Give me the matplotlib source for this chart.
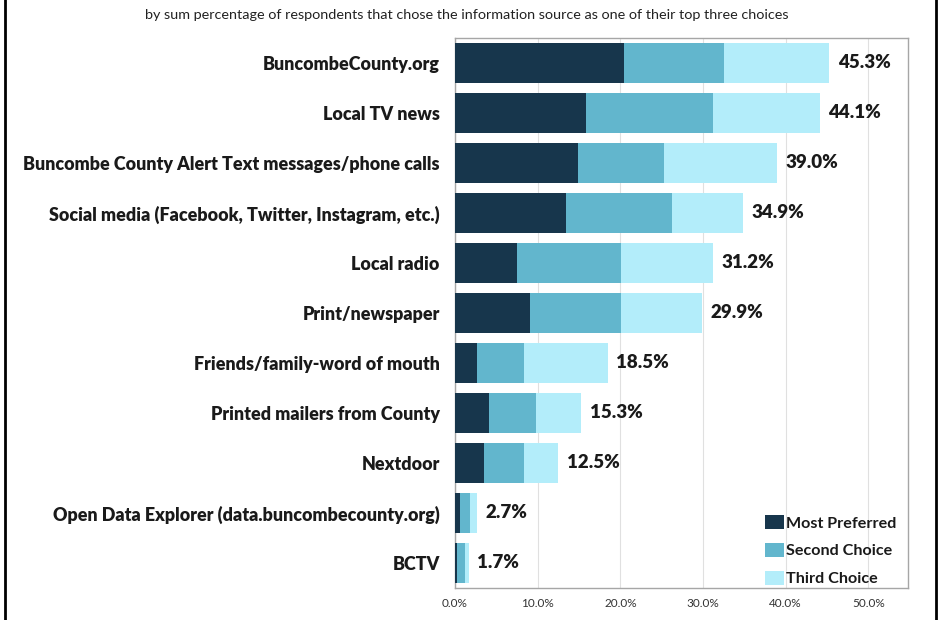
import matplotlib.pyplot as plt
from matplotlib.lines import Line2D
import numpy as np

sources = ["BuncombeCounty.org", "Local TV news",
           "Buncombe County Alert Text messages/phone calls",
           "Social media (Facebook, Twitter, Instagram, etc.)",
           "Local radio", "Print/newspaper", "Friends/family-word of mouth",
           "Printed mailers from County", "Nextdoor",
           "Open Data Explorer (data.buncombecounty.org)", "BCTV"]
most_preferred = [20.5, 15.8, 14.9, 13.4, 7.5, 9.1, 2.7, 4.1, 3.5, 0.6, 0.3]
second_choice = [12.1, 15.4, 10.4, 12.9, 12.6, 11.0, 5.6, 5.7, 4.8, 1.2, 0.9]
third_choice = [12.7, 12.9, 13.7, 8.6, 11.1, 9.8, 10.2, 5.5, 4.2, 0.9, 0.5]
totals = [45.3, 44.1, 39.0, 34.9, 31.2, 29.9, 18.5, 15.3, 12.5, 2.7, 1.7]
ticks = [0, 10, 20, 30, 40, 50]

font = "Lato"
fig = plt.figure(figsize=(9.39, 6.2), dpi=100)
ax = fig.add_axes([455/939, 1 - 588/620, 453/939, 550/620])

y = np.arange(len(sources))
mp = np.array(most_preferred)
sc = np.array(second_choice)
tc = np.array(third_choice)
h = 0.8
ax.barh(y, mp, height=h, color="#17364c", label="Most Preferred", zorder=3)
ax.barh(y, sc, left=mp, height=h, color="#62b6cd", label="Second Choice", zorder=3)
ax.barh(y, tc, left=mp + sc, height=h, color="#b3edfa", label="Third Choice", zorder=3)

for i, t in enumerate(totals):
    ax.text(mp[i] + sc[i] + tc[i] + 1.0, i, f"{t:.1f}%", va="center", ha="left",
            fontsize=13.5, fontweight="heavy", family=font, color="#1a1a1a")

ax.set_ylim(len(sources) - 0.5, -0.5)
ax.set_xlim(0, 54.8)
ax.set_yticks(y)
ax.set_yticklabels(sources, fontsize=12.9, fontweight="heavy", family=font, color="#1a1a1a")
ax.set_xticks(ticks)
ax.set_xticklabels([f"{t:.1f}%" for t in ticks], fontsize=8.5, family=font, color="#333333")
ax.tick_params(axis="y", length=0, pad=11)
ax.tick_params(axis="x", length=0, pad=7)
ax.grid(axis="x", color="#e0e0e0", linewidth=0.8, zorder=0)
for s in ax.spines.values():
    s.set_color("#a6a6a6")
    s.set_linewidth(1.0)

leg = ax.legend(loc="lower right", bbox_to_anchor=(0.989, -0.0085), frameon=False,
                handlelength=1.15, handleheight=1.0, handletextpad=0.15,
                labelspacing=0.75, borderaxespad=0,
                prop={"family": font, "size": 11.6, "weight": "bold"})
for t in leg.get_texts():
    t.set_color("#1a1a1a")

fig.text(467/939, 1 - 15/620,
         "by sum percentage of respondents that chose the information source as one of their top three choices",
         ha="center", va="center", fontsize=10.4, family=font, color="#222222")

fig.add_artist(Line2D([5/939, 5/939], [0, 1], color="black", linewidth=2, transform=fig.transFigure))
fig.add_artist(Line2D([936/939, 936/939], [0, 1], color="black", linewidth=2, transform=fig.transFigure))

fig.savefig("out.png", dpi=100)
